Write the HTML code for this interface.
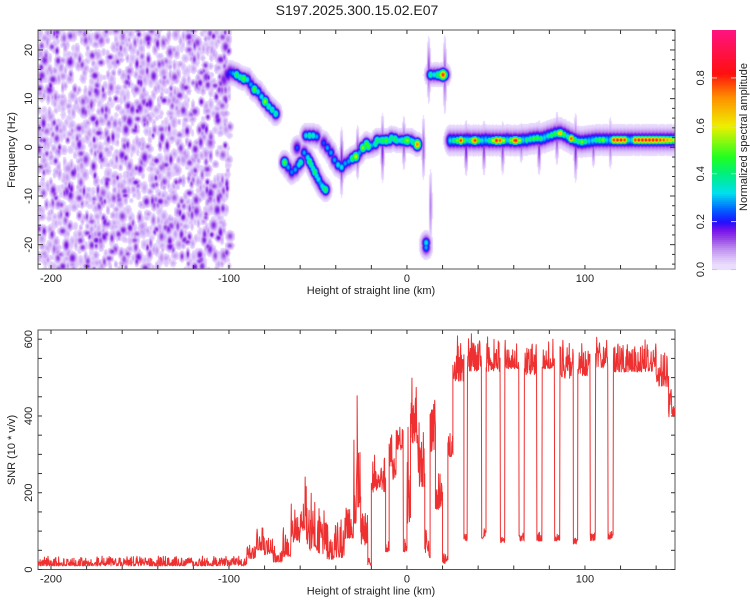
<!DOCTYPE html>
<html><head><meta charset="utf-8">
<style>
html,body{margin:0;padding:0;background:#fff;width:750px;height:600px;overflow:hidden;font-family:"Liberation Sans",sans-serif}
#wrap{position:relative;width:750px;height:600px}
canvas,svg{position:absolute;left:0;top:0}
text{font-family:"Liberation Sans",sans-serif;fill:#222}
</style></head>
<body>
<div id="wrap">
<canvas id="spec" width="637" height="239" style="left:38px;top:30px"></canvas>
<svg id="svg" width="750" height="600"></svg>
</div>
<script>
// ---------- axis tick labels ----------
const xTickLabels = [-200, -100, 0, 100];
const fTickLabels = [-20, -10, 0, 10, 20];
const snrTickLabels = [0, 200, 400, 600];
const cbTickLabels = [0.0, 0.2, 0.4, 0.6, 0.8];

// ---------- spectrogram ridge blobs: [km, Hz, amplitude] ----------
const ridgeKm  = [-103,-101,-99.5,-98,-96,-94,-92,-90,-88,-86,-84,-82,-80,-78,-76,-74, -69,-67,-65,-63,-61,-60,-62,-58,-56,-55,-54,-53,-52,-51,-50,-49,-48,-47,-46, -57,-55,-53,-51, -47,-45,-43,-41,-39,-37,-35,-33,-31,-29,-27,-25,-23,-22,-20,-18,-17,-15,-14,-12,-10,-9,-7,-6,-4,-3,-1,0,2,3,5.5, 13,15,17,19,20,21,10.5,10.5];
const ridgeHz  = [14,15,15.5,15.3,15,14.5,14.2,14,13,12,11.5,10.5,9.5,8.5,7.8,7, -3,-4,-5,-4.5,-3.5,-3,0,-1,-2,-2.8,-3.5,-4.3,-5,-5.8,-6.5,-7.2,-7.8,-8.3,-8.6, 2.5,2.5,2.5,2.3, 1,0,-1,-2.5,-3.5,-4,-3.2,-2.8,-2.2,-1.8,-1,0,0.8,0.3,0.5,0.8,1.5,1.5,1.5,1.5,1.5,2,1.8,1.5,1.5,1.5,1.5,1.5,1.5,1.2,0.7, 15,15,15,15,15,15,-19.5,-20.5];
const ridgeAmp = [0.16,0.2,0.25,0.3,0.45,0.4,0.5,0.35,0.3,0.5,0.35,0.35,0.55,0.4,0.4,0.4, 0.5,0.3,0.28,0.3,0.35,0.4,0.25,0.3,0.35,0.45,0.4,0.38,0.45,0.35,0.35,0.3,0.35,0.4,0.45, 0.35,0.4,0.38,0.3, 0.25,0.3,0.3,0.3,0.35,0.35,0.3,0.3,0.45,0.6,0.3,0.55,0.5,0.5,0.3,0.4,0.45,0.4,0.45,0.5,0.4,0.42,0.45,0.4,0.35,0.4,0.5,0.55,0.35,0.4,0.75, 0.4,0.35,0.45,0.6,0.82,0.5,0.35,0.3];

// right-hand steady band [km, Hz, amplitude]
const bandKm  = [24,26,28,30,32,33.5,35,37,38,40,42,44,46,48,50,52,54,56,58,60,61,63,65,67,69,71,73,75,77,79,81,83,85,86,88,90,92,94,96,98,100,102,104,106,108,110,112,114,116,118,120,122,124,126,128,130,132,134,136,138,140,142,144,146,148,150];
const bandHz  = [1.5,1.5,1.5,1.5,1.5,1.6,1.5,1.5,1.5,1.5,1.5,1.6,1.5,1.5,1.5,1.5,1.5,1.6,1.5,1.5,1.5,1.5,1.6,1.6,1.8,1.9,2.0,1.9,2.1,2.4,2.6,2.9,3.0,3.0,2.7,2.3,1.9,1.6,1.3,1.2,1.3,1.4,1.5,1.6,1.6,1.6,1.6,1.6,1.6,1.6,1.6,1.6,1.6,1.6,1.6,1.6,1.6,1.6,1.6,1.6,1.6,1.6,1.6,1.6,1.6,1.6];
const bandAmp = [0.35,0.45,0.55,0.82,0.5,0.3,0.45,0.7,0.82,0.5,0.35,0.3,0.45,0.6,0.85,0.8,0.6,0.3,0.55,0.8,0.85,0.6,0.3,0.45,0.45,0.5,0.5,0.45,0.3,0.4,0.48,0.5,0.6,0.7,0.5,0.4,0.8,0.5,0.45,0.55,0.45,0.3,0.35,0.45,0.5,0.55,0.3,0.3,0.82,0.85,0.85,0.82,0.4,0.3,0.82,0.85,0.85,0.85,0.85,0.85,0.85,0.82,0.8,0.75,0.7,0.65];

// vertical streaks: [km, centerHz, amplitude, heightHz]
const streakKm  = [-37,-28,-14,-2,9,12,13,21,33,43,53.5,64,74,84,94.5,104.5,114];
const streakHz  = [-3,-1,0,1,0,16,-12,15,0,0,0,1,0,2,0,0,1];
const streakAmp = [0.17,0.15,0.16,0.14,0.12,0.14,0.1,0.13,0.17,0.15,0.14,0.14,0.15,0.14,0.16,0.13,0.12];
const streakH   = [5,4,5,4,5,5,6,6,4,4,4,3,4,4,5,3,4];

// ---------- SNR piecewise bands: [startKm, endKm, low, high] ----------
const snrStart = [-207.3,-90,-85,-80,-75,-70,-65,-60,-57,-55,-50,-45,-40,-35,-30,-28,-26,-22,-20,-17,-14,-12,-10,-8,-6,-2,0,2,6,10,13,16,20,23,25.8,32,34,42,44.5,52.5,55,63,66,73,76,83,86,93.5,96,103,106,113,116,140,147];
const snrEnd   = [-90,-85,-80,-75,-70,-65,-60,-57,-55,-50,-45,-40,-35,-30,-28,-26,-22,-20,-17,-14,-12,-10,-8,-6,-2,0,2,6,10,13,16,20,23,25.8,32,34,42,44.5,52.5,55,63,66,73,76,83,86,93.5,96,103,106,113,116,140,147,150.6];
const snrLow   = [5,20,40,30,10,20,50,60,40,20,20,10,10,60,80,100,40,5,180,200,180,40,250,220,300,40,60,300,180,15,280,140,10,280,470,70,500,75,500,65,510,70,490,70,510,70,480,60,490,70,510,75,500,460,380];
const snrHigh  = [35,80,110,90,70,110,175,320,220,220,160,120,150,200,350,490,200,40,310,280,330,80,380,320,380,80,470,500,420,120,460,250,50,370,610,100,615,110,610,100,600,100,610,100,600,100,600,100,590,100,610,100,600,570,500];

// ---------- layout ----------
const NS = 'http://www.w3.org/2000/svg';
const svg = document.getElementById('svg');
const P1 = {l:38, r:675, t:30, b:269};
const P2 = {l:38, r:675, t:330, b:569.5};
const xMin = -207.3, xMax = 150.6;
const fMin = -25, fMax = 24.1;
const sMin = 0, sMax = 624;
const xs = v => P1.l + (v - xMin) / (xMax - xMin) * (P1.r - P1.l);
const fy = v => P1.b - (v - fMin) / (fMax - fMin) * (P1.b - P1.t);
const sy = v => P2.b - (v - sMin) / (sMax - sMin) * (P2.b - P2.t);

function mk(tag, attrs, parent) {
  const e = document.createElementNS(NS, tag);
  for (const k in attrs) e.setAttribute(k, attrs[k]);
  (parent || svg).appendChild(e);
  return e;
}

// ---------- colormap ----------
const cmapV = [0, 0.012, 0.05, 0.09, 0.13, 0.165, 0.2, 0.25, 0.32, 0.4, 0.47, 0.6, 0.72, 0.82, 1.0];
const cmapC = [[255,255,255],[240,230,255],[218,192,250],[190,140,240],[150,70,230],[120,20,235],[32,16,255],[0,96,255],[0,224,240],[0,240,128],[32,255,32],[240,240,0],[255,144,0],[255,16,16],[255,20,128]];
function cmap(v) {
  if (v <= 0) return cmapC[0];
  if (v >= 1) return cmapC[cmapC.length - 1];
  for (let i = 1; i < cmapV.length; i++) {
    if (v <= cmapV[i]) {
      const t = (v - cmapV[i-1]) / (cmapV[i] - cmapV[i-1]);
      const a = cmapC[i-1], b = cmapC[i];
      return [a[0]+(b[0]-a[0])*t, a[1]+(b[1]-a[1])*t, a[2]+(b[2]-a[2])*t];
    }
  }
}

// ---------- spectrogram ----------
const W = 637, H = 239;
const field = new Float32Array(W * H);
function blob(km, hz, amp, wkm, whz) {
  const cx = xs(km) - P1.l, cy = fy(hz) - P1.t;
  const sx = wkm * (W / (xMax - xMin)), syy = whz * (H / (fMax - fMin));
  const x0 = Math.max(0, Math.floor(cx - 3*sx)), x1 = Math.min(W-1, Math.ceil(cx + 3*sx));
  const y0 = Math.max(0, Math.floor(cy - 3*syy)), y1 = Math.min(H-1, Math.ceil(cy + 3*syy));
  for (let y = y0; y <= y1; y++) {
    const dy = (y - cy) / syy;
    for (let x = x0; x <= x1; x++) {
      const dx = (x - cx) / sx;
      const v = amp * Math.exp(-(dx*dx + dy*dy));
      const k = y * W + x;
      if (v > field[k]) field[k] = v;
    }
  }
}
// background speckle texture (deterministic hash, noise floor left of -100 km)
function hash(i, j) { let h = (i * 374761393 + j * 668265263) ^ 0x5bd1e995; h = Math.imul(h ^ (h >>> 13), 1274126177); h = h ^ (h >>> 16); return (h >>> 0) / 4294967296; }
for (let i = 0; i < 75; i++) {
  for (let j = 0; j < 40; j++) {
    const km = -208 + i * 1.45 + hash(i, j) * 1.45;
    if (km > -99.5) continue;
    const hz = -26 + j * 1.3 + hash(j + 91, i) * 1.3;
    const r = hash(i + 7, j + 13);
    const amp = r < 0.5 ? 0 : (r < 0.86 ? 0.04 + 0.05 * hash(i, j + 50) : 0.11 + 0.06 * hash(i + 3, j));
    if (amp > 0) blob(km, hz, amp, 1.0 + hash(i+1, j+2) * 1.2, 0.6 + hash(i+5, j+9) * 0.6);
  }
}
// streaks
for (let i = 0; i < streakKm.length; i++) blob(streakKm[i], streakHz[i], streakAmp[i], 0.9, streakH[i]);
// ridges: halo + core
for (let i = 0; i < ridgeKm.length; i++) {
  blob(ridgeKm[i], ridgeHz[i], 0.08, 3.4, 2.2);
  blob(ridgeKm[i], ridgeHz[i], Math.min(0.2, ridgeAmp[i]), 2.6, 1.6);
  blob(ridgeKm[i], ridgeHz[i], ridgeAmp[i], 2.2, 1.1);
}
// band body
for (let i = 0; i < bandKm.length; i++) {
  blob(bandKm[i], bandHz[i], 0.08, 3, 2.8);
  blob(bandKm[i], bandHz[i], 0.2, 2.6, 2.0);
  blob(bandKm[i], bandHz[i], 0.32, 2.4, 1.5);
  blob(bandKm[i], bandHz[i], bandAmp[i], 1.9, 0.85);
}
(function () {
  const ctx = document.getElementById('spec').getContext('2d');
  const img = ctx.createImageData(W, H);
  for (let k = 0; k < W * H; k++) {
    const v = field[k];
    const c = v < 0.02 ? [255,255,255] : cmap(v);
    img.data[4*k] = c[0]; img.data[4*k+1] = c[1]; img.data[4*k+2] = c[2]; img.data[4*k+3] = 255;
  }
  ctx.putImageData(img, 0, 0);
})();

// ---------- title ----------
let t = mk('text', {x: 357, y: 15, 'text-anchor': 'middle', 'font-size': 14});
t.textContent = 'S197.2025.300.15.02.E07';



// ---------- axes helper ----------
function frame(P, name) {
  const r = mk('rect', {x: P.l, y: P.t, width: P.r - P.l, height: P.b - P.t, fill: 'none', stroke: '#555', 'stroke-width': 1});
  
  
}
function xAxis(P, name) {
  const g = mk('g', {});
  
  
  for (let v = -200; v <= 140; v += 20) {
    const x = xs(v);
    mk('line', {x1: x, x2: x, y1: P.b, y2: P.b - 4, stroke: '#333'}, g);
    mk('line', {x1: x, x2: x, y1: P.t, y2: P.t + 4, stroke: '#333'}, g);
  }
  xTickLabels.forEach(v => {
    const tx = mk('text', {x: xs(v), y: P.b + 13, 'text-anchor': 'middle', 'font-size': 11}, g);
    tx.textContent = v;
    
    
  });
  const lab = mk('text', {x: 371, y: P.b + 25, 'text-anchor': 'middle', 'font-size': 11}, g);
  lab.textContent = 'Height of straight line (km)';
  
  
}

// top panel
frame(P1, 'spectrogram-frame');
xAxis(P1, 'spectrogram-x-axis');
(function () {
  const g = mk('g', {});
  
  
  for (let v = -24; v <= 24; v += 2) {
    const y = fy(v);
    mk('line', {x1: P1.l, x2: P1.l + (v % 10 === 0 ? 5 : 3), y1: y, y2: y, stroke: '#333'}, g);
    mk('line', {x1: P1.r, x2: P1.r - (v % 10 === 0 ? 5 : 3), y1: y, y2: y, stroke: '#333'}, g);
  }
  fTickLabels.forEach(v => {
    const y = fy(v);
    const tx = mk('text', {x: 0, y: 0, 'text-anchor': 'middle', 'font-size': 11, transform: `translate(32,${y}) rotate(-90)`}, g);
    tx.textContent = v;
    
    
  });
  const lab = mk('text', {x: 0, y: 0, 'text-anchor': 'middle', 'font-size': 11, transform: `translate(15,150) rotate(-90)`}, g);
  lab.textContent = 'Frequency (Hz)';
  
  
})();

// colorbar
(function () {
  const g = mk('g', {});
  
  
  const cx = 712, cw = 24, ct = 30, cb = 269.5;
  const n = 120;
  for (let i = 0; i < n; i++) {
    const v = (i + 0.5) / n;
    const c = cmap(Math.max(v, 0.02));
    const y1 = cb - (i + 1) / n * (cb - ct);
    mk('rect', {x: cx, y: y1, width: cw, height: (cb - ct) / n + 0.6, fill: `rgb(${c[0]|0},${c[1]|0},${c[2]|0})`}, g);
  }
  cbTickLabels.forEach(v => {
    const y = cb - v * (cb - ct);
    mk('line', {x1: cx, x2: cx + 5, y1: y, y2: y, stroke: '#ccc'}, g);
    mk('line', {x1: cx + cw, x2: cx + cw - 5, y1: y, y2: y, stroke: '#ccc'}, g);
    const tx = mk('text', {x: 0, y: 0, 'text-anchor': 'middle', 'font-size': 11, transform: `translate(704,${y}) rotate(-90)`}, g);
    tx.textContent = v.toFixed(1);
    
    
  });
  const lab = mk('text', {x: 0, y: 0, 'text-anchor': 'middle', 'font-size': 11, transform: `translate(747,137) rotate(-90)`}, g);
  lab.textContent = 'Normalized spectral amplitude';
  
  
})();

// bottom panel
frame(P2, 'snr-frame');
xAxis(P2, 'snr-x-axis');
(function () {
  const g = mk('g', {});
  
  
  for (let v = 0; v <= 600; v += 50) {
    const y = sy(v);
    mk('line', {x1: P2.l, x2: P2.l + 4, y1: y, y2: y, stroke: '#333'}, g);
    mk('line', {x1: P2.r, x2: P2.r - 4, y1: y, y2: y, stroke: '#333'}, g);
  }
  snrTickLabels.forEach(v => {
    const y = sy(v);
    const tx = mk('text', {x: 0, y: 0, 'text-anchor': 'middle', 'font-size': 11, transform: `translate(32,${y}) rotate(-90)`}, g);
    tx.textContent = v;
    
    
  });
  const lab = mk('text', {x: 0, y: 0, 'text-anchor': 'middle', 'font-size': 11, transform: `translate(15,450) rotate(-90)`}, g);
  lab.textContent = 'SNR (10 * v/v)';
  
  
})();

// SNR trace: irregular zigzag within low/high envelope of each segment
(function () {
  let d = '';
  let first = true, n = 0;
  for (let i = 0; i < snrStart.length; i++) {
    const a = snrStart[i], b = snrEnd[i];
    const lo = snrLow[i], hi = snrHigh[i];
    const step = 0.2;
    for (let x = a; x < b; x += step) {
      const r = hash(n, 17);
      n++;
      const frac = 0.15 + 0.75 * r * r + (n % 2 ? 0.1 : -0.05) * r;
      const v = lo + (hi - lo) * Math.min(1, Math.max(0, frac));
      d += (first ? 'M' : 'L') + xs(x).toFixed(2) + ',' + sy(v).toFixed(2);
      first = false;
    }
  }
  const p = mk('path', {d: d, fill: 'none', stroke: '#ee3030', 'stroke-width': 1, 'stroke-linejoin': 'round'});
  
  
})();
</script>
</body></html>
